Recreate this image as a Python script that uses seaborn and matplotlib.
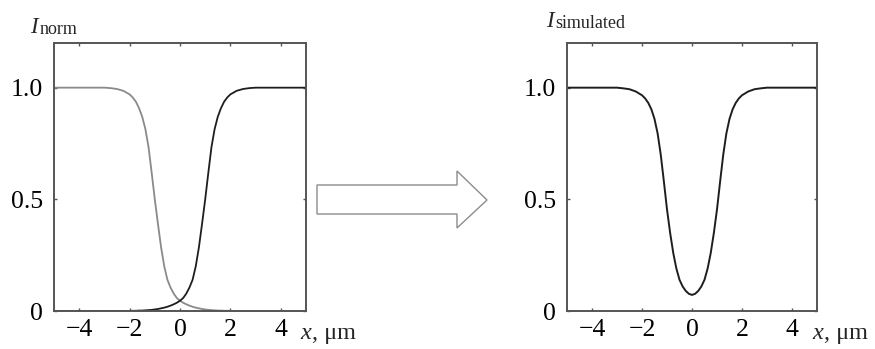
import matplotlib
matplotlib.use("Agg")
import matplotlib.pyplot as plt
from matplotlib.patches import Polygon
import seaborn as sns
import pandas as pd

# ---- data ----
x_um = [-5, -4.5, -4, -3.5, -3, -2.75, -2.5, -2.25,
        -2, -1.875, -1.75, -1.625, -1.5, -1.375, -1.25, -1.125, -1, -0.875, -0.75, -0.625,
        -0.5, -0.375, -0.25, -0.125, 0, 0.125, 0.25, 0.375, 0.5, 0.625, 0.75, 0.875,
        1, 1.125, 1.25, 1.375, 1.5, 1.625, 1.75, 1.875, 2,
        2.25, 2.5, 2.75, 3, 3.5, 4, 4.5, 5]

i_rising = [0, 0, 0, 0, 0, 0, 0, 0,
            0.000, 0.001, 0.001, 0.002, 0.002, 0.003, 0.004, 0.005, 0.007, 0.009, 0.012, 0.015,
            0.019, 0.024, 0.030, 0.037, 0.046, 0.058, 0.078, 0.105, 0.140, 0.200, 0.285, 0.390,
            0.500, 0.620, 0.735, 0.815, 0.870, 0.908, 0.937, 0.956, 0.970,
            0.986, 0.994, 0.998, 1, 1, 1, 1, 1]

i_falling = [1, 1, 1, 1, 1, 0.998, 0.994, 0.986,
             0.970, 0.956, 0.937, 0.908, 0.870, 0.815, 0.735, 0.620, 0.500, 0.390, 0.285, 0.200,
             0.140, 0.105, 0.078, 0.058, 0.046, 0.037, 0.030, 0.024, 0.019, 0.015, 0.012, 0.009,
             0.007, 0.005, 0.004, 0.003, 0.002, 0.002, 0.001, 0.001, 0.000,
             0, 0, 0, 0, 0, 0, 0, 0]

i_simulated = [1, 1, 1, 1, 1, 0.997, 0.993, 0.983,
               0.966, 0.952, 0.932, 0.903, 0.860, 0.795, 0.700, 0.580, 0.455, 0.350, 0.260, 0.190,
               0.140, 0.110, 0.090, 0.077, 0.072, 0.077, 0.090, 0.110, 0.140, 0.190, 0.260, 0.350,
               0.455, 0.580, 0.700, 0.795, 0.860, 0.903, 0.932, 0.952, 0.966,
               0.983, 0.993, 0.997, 1, 1, 1, 1, 1]

x_ticks = [-4, -2, 0, 2, 4]
x_tick_labels = ["\u22124", "\u22122", "0", "2", "4"]
y_ticks = [0, 0.5, 1.0]
y_tick_labels = ["0", "0.5", "1.0"]

# ---- style ----
sns.set_style("ticks")
plt.rcParams["font.family"] = ["Liberation Serif", "DejaVu Serif"]

W, H = 875, 349
fig = plt.figure(figsize=(W / 100, H / 100), dpi=100)
fig.patch.set_facecolor("white")

def px_rect(x0, y0, x1, y1):
    return [x0 / W, 1 - y1 / H, (x1 - x0) / W, (y1 - y0) / H]

ax1 = fig.add_axes(px_rect(54, 43, 306, 311))
ax2 = fig.add_axes(px_rect(567, 43, 817, 311))

df = pd.DataFrame({"x": x_um, "rise": i_rising, "fall": i_falling, "sim": i_simulated})

sns.lineplot(data=df, x="x", y="fall", ax=ax1, color="#8a8a8a", linewidth=1.3)
sns.lineplot(data=df, x="x", y="rise", ax=ax1, color="#1e1e1e", linewidth=1.3)
sns.lineplot(data=df, x="x", y="sim", ax=ax2, color="#1e1e1e", linewidth=1.4)

for ax in (ax1, ax2):
    ax.set_xlim(-5, 5)
    ax.set_ylim(0, 1.2)
    ax.set_xticks(x_ticks)
    ax.set_xticklabels(x_tick_labels)
    ax.set_yticks(y_ticks)
    ax.set_yticklabels(y_tick_labels)
    ax.set_xlabel("")
    ax.set_ylabel("")
    ax.tick_params(direction="in", length=2.5, width=1, colors="#555555",
                   labelcolor="black", labelsize=18.5, top=True, right=True)
    ax.tick_params(axis="x", pad=6)
    ax.tick_params(axis="y", pad=8)
    for s in ax.spines.values():
        s.set_visible(True)
        s.set_color("#555555")
        s.set_linewidth(1.4)
    ax.set_facecolor("white")

# axis titles: italic I with roman subscript
fig.text(30 / W, 1 - 33 / H, "I", fontsize=16.5, style="italic", va="baseline", ha="left")
fig.text(40 / W, 1 - 34 / H, "norm", fontsize=13, va="baseline", ha="left")
fig.text(546 / W, 1 - 27 / H, "I", fontsize=16.5, style="italic", va="baseline", ha="left")
fig.text(555 / W, 1 - 28 / H, "simulated", fontsize=13, va="baseline", ha="left")

# x-axis unit labels
for x0 in (300, 812):
    fig.text(x0 / W, 1 - 339 / H, "x", fontsize=17.5, style="italic", va="baseline", ha="left")
    fig.text((x0 + 12) / W, 1 - 339 / H, ", \u03bcm", fontsize=17.5, va="baseline", ha="left")

# hollow arrow between panels
arrow_px = [(317, 185), (457, 185), (457, 171), (487, 200), (457, 228), (457, 214), (317, 214)]
arrow = Polygon([(px / W, 1 - py / H) for px, py in arrow_px], closed=True,
                transform=fig.transFigure, facecolor="white", edgecolor="#8c8c8c", linewidth=1.0)
fig.patches.append(arrow)

fig.savefig("out.png", dpi=100, facecolor="white")
